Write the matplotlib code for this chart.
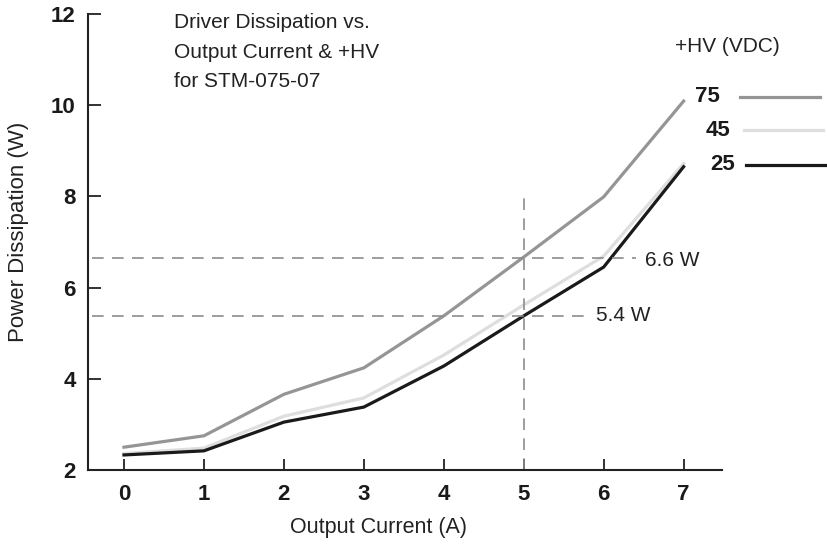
import matplotlib
import numpy as np
import matplotlib.pyplot as plt
from matplotlib.lines import Line2D

matplotlib.rcParams['font.family'] = 'Liberation Sans'

# data
current = [0, 1, 2, 3, 4, 5, 6, 7]
hv_labels = ['75', '45', '25']
p_75 = [2.50, 2.75, 3.66, 4.24, 5.38, 6.67, 7.99, 10.09]
p_45 = [2.36, 2.48, 3.18, 3.58, 4.52, 5.62, 6.69, 8.72]
p_25 = [2.33, 2.42, 3.05, 3.38, 4.28, 5.38, 6.45, 8.65]
ref_current = 5
ref_hi = 6.65
ref_lo = 5.38
ref_labels = ['6.6 W', '5.4 W']

col_75 = '#959595'
col_45 = '#dedede'
col_25 = '#1a1a1a'
dash_col = '#8c8c8c'

fig = plt.figure(figsize=(8.27, 5.46), dpi=100)
W, H = 827.0, 546.0
ax = fig.add_axes([88/W, 76/H, (722-88)/W, (470-14)/H])

ax.plot(current, p_75, '-', color=col_75, linewidth=2.3, solid_joinstyle='miter')
ax.plot(current, p_45, '-', color=col_45, linewidth=2.3, solid_joinstyle='miter')
ax.plot(current, p_25, '-', color=col_25, linewidth=2.3, solid_joinstyle='miter')

# reference dashed lines
x0 = -0.40
dash = dict(color=dash_col, linewidth=1.2, dashes=(7, 5))
ax.plot([x0, 6.4], [ref_hi, ref_hi], **dash)
ax.plot([x0, 5.8], [ref_lo, ref_lo], **dash)
ax.plot([ref_current, ref_current], [2, 8.05], **dash)
ax.text(6.52, ref_hi - 0.05, ref_labels[0], fontsize=15, va='center', ha='left', color='#222222')
ax.text(5.91, ref_lo, ref_labels[1], fontsize=15, va='center', ha='left', color='#222222')

ax.set_xlim(-0.45, 7.48)
ax.set_ylim(2, 12)
ax.set_xticks(np.arange(0, 8, 1))
ax.set_yticks(np.arange(2, 13, 2))
for s in ['top', 'right']:
    ax.spines[s].set_visible(False)
for s in ['left', 'bottom']:
    ax.spines[s].set_linewidth(1.5)
    ax.spines[s].set_color('#222222')
ax.tick_params(axis='y', direction='in', length=9, width=1.3, color='#222222', pad=9)
ax.tick_params(axis='x', direction='in', length=8, width=1.3, color='#222222', pad=10)
for lab in ax.get_xticklabels() + ax.get_yticklabels():
    lab.set_fontweight('bold')
    lab.set_fontsize(16)
    lab.set_color('#1a1a1a')

fig.text(378/W, 1 - 528/H, 'Output Current (A)', fontsize=15.5, ha='center', va='center', color='#222222')
fig.text(19/W, 1 - 232/H, 'Power Dissipation (W)', fontsize=16, ha='center', va='center',
         rotation=90, color='#222222')

fig.text(174/W, 1 - 52/H, 'Driver Dissipation vs.\nOutput Current & +HV\nfor STM-075-07',
         fontsize=15, va='center', ha='left', linespacing=1.72, color='#222222')

# legend drawn by hand at the right
fig.text(727/W, 1 - 46/H, '+HV (VDC)', fontsize=15, ha='center', va='center', color='#222222')
leg_y = [97, 130, 165]
leg_x = [(720, 740, 820), (730, 744, 823), (735, 746, 826)]
for lab, yy, (tx, l0, l1), c in zip(hv_labels, leg_y, leg_x, [col_75, col_45, col_25]):
    fig.text(tx/W, 1 - yy/H, lab, fontsize=16, fontweight='bold', ha='right', va='center', color='#1a1a1a')
    fig.add_artist(Line2D([l0/W, l1/W], [1 - yy/H, 1 - yy/H], color=c, linewidth=2.3,
                          transform=fig.transFigure))

plt.savefig('out.png', dpi=100)
